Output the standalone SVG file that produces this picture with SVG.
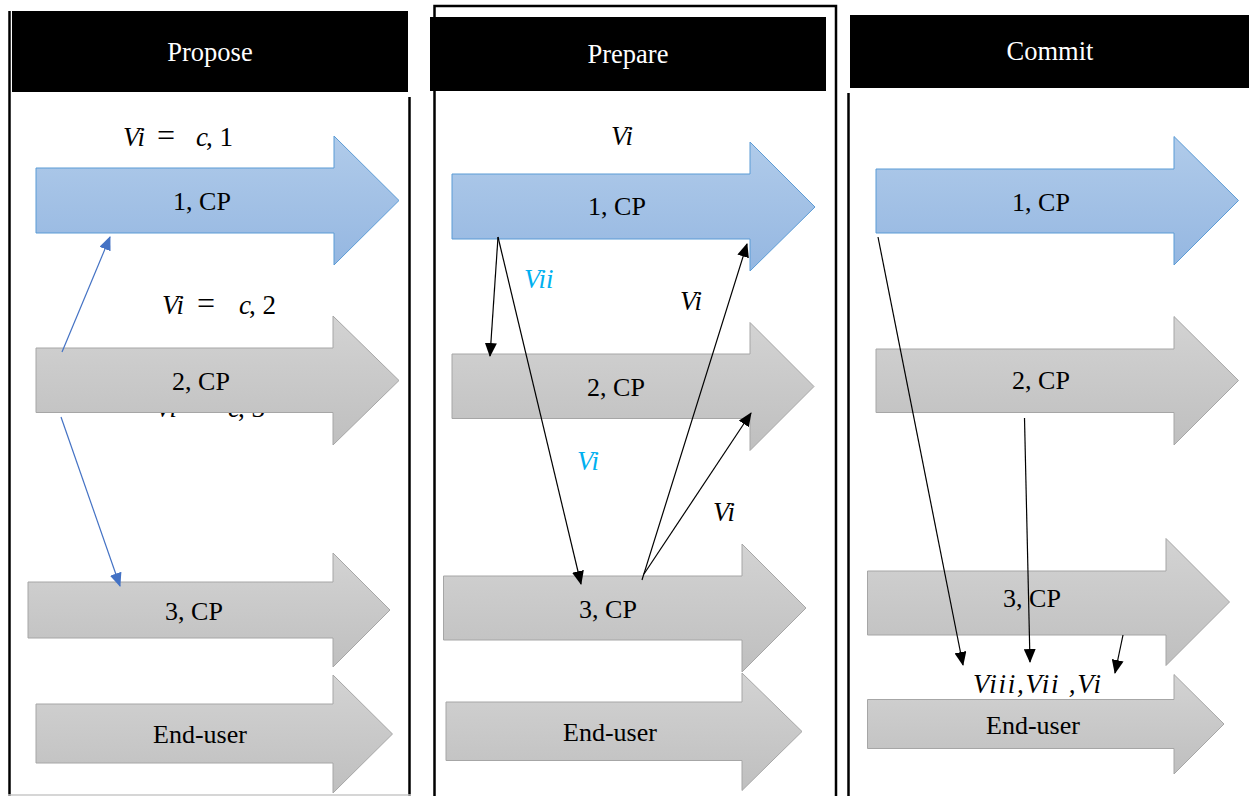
<svg xmlns="http://www.w3.org/2000/svg" width="1249" height="796" viewBox="0 0 1249 796">
  <defs>
    <linearGradient id="gBlue" x1="0" y1="0" x2="0" y2="1">
      <stop offset="0" stop-color="#b0cbea"/>
      <stop offset="1" stop-color="#95b7e1"/>
    </linearGradient>
    <linearGradient id="gGray" x1="0" y1="0" x2="0" y2="1">
      <stop offset="0" stop-color="#d3d3d3"/>
      <stop offset="1" stop-color="#bfbfbf"/>
    </linearGradient>
    <marker id="headBlack" viewBox="0 0 14 12" refX="13" refY="6" markerWidth="14" markerHeight="12" markerUnits="userSpaceOnUse" orient="auto">
      <path d="M0,0 L14,6 L0,12 Z" fill="#000"/>
    </marker>
    <marker id="headBlue" viewBox="0 0 14 12" refX="13" refY="6" markerWidth="14" markerHeight="12" markerUnits="userSpaceOnUse" orient="auto">
      <path d="M0,0 L14,6 L0,12 Z" fill="#4472c4"/>
    </marker>
  </defs>
  <style>
    text { font-family: 'Liberation Serif', 'Times New Roman', 'DejaVu Serif', serif; }
    .frame { stroke: #000; stroke-width: 2.5; fill: none; }
    .header { fill: #000; }
    .title { font-size: 26.5px; fill: #fff; text-anchor: middle; }
    .blue { fill: url(#gBlue); stroke: #5b9bd5; stroke-width: 1; }
    .gray { fill: url(#gGray); stroke: #a6a6a6; stroke-width: 1; }
    .lbl { font-size: 26px; fill: #000; text-anchor: middle; }
    .math { font-size: 27px; fill: #000; }
    .eq { font-size: 32px; }
    .it { font-style: italic; }
    .cyan { fill: #00b0f0; }
    .link { stroke: #000; stroke-width: 1.2; fill: none; marker-end: url(#headBlack); }
    .linkBlue { stroke: #4472c4; stroke-width: 1.2; fill: none; marker-end: url(#headBlue); }
  </style>

  <rect width="1249" height="796" fill="#fff"/>

  <!-- Phase frames and headers -->
  <g id="phase-propose">
    <line class="frame" x1="9.5" y1="11" x2="9.5" y2="796"/>
    <line class="frame" x1="409.5" y1="97" x2="409.5" y2="796"/>
    <line x1="8" y1="795" x2="411" y2="795" stroke="#c8c8c8" stroke-width="1.5"/>
    <rect class="header" x="12" y="11" width="396" height="81"/>
    <text class="title" x="210" y="61">Propose</text>
  </g>
  <g id="phase-prepare">
    <polyline class="frame" points="434.5,796 434.5,6 836,6 836,796"/>
    <rect class="header" x="430" y="17" width="396" height="74"/>
    <text class="title" x="628" y="63">Prepare</text>
  </g>
  <g id="phase-commit">
    <line class="frame" x1="848.5" y1="93" x2="848.5" y2="796"/>
    <rect class="header" x="850" y="15" width="399" height="73"/>
    <text class="title" x="1050" y="60">Commit</text>
  </g>

  <!-- Propose column -->
  <g id="p1-cp1">
    <path class="blue" d="M36,168 H334 V136 L399,200.5 L334,265 V233 H36 Z"/>
    <text class="lbl" x="202" y="210">1, CP</text>
  </g>
  <!-- third value label sits mostly behind the 2, CP arrow -->
  <text class="math" y="417"><tspan class="it" x="155">Vi</tspan><tspan class="eq" x="189">=</tspan><tspan class="it" x="228">c</tspan><tspan x="238">, 3</tspan></text>
  <g id="p1-cp2">
    <path class="gray" d="M36,348 H333 V316 L399,380.5 L333,445 V412.5 H36 Z"/>
    <text class="lbl" x="201" y="390">2, CP</text>
  </g>
  <g id="p1-cp3">
    <path class="gray" d="M28,582 H333 V553 L390,610 L333,667 V638 H28 Z"/>
    <text class="lbl" x="194" y="620">3, CP</text>
  </g>
  <g id="p1-enduser">
    <path class="gray" d="M36,704 H333 V675 L392.5,734 L333,793 V763 H36 Z"/>
    <text class="lbl" x="200" y="743">End-user</text>
  </g>
  <text class="math" y="146"><tspan class="it" x="123">Vi</tspan><tspan class="eq" x="157">=</tspan><tspan class="it" x="196">c</tspan><tspan x="206">, 1</tspan></text>
  <text class="math" y="314"><tspan class="it" x="162">Vi</tspan><tspan class="eq" x="197">=</tspan><tspan class="it" x="239">c</tspan><tspan x="249">, 2</tspan></text>

  <!-- Prepare column -->
  <g id="p2-cp1">
    <path class="blue" d="M452,174 H750 V142 L815,207 L750,271 V239 H452 Z"/>
    <text class="lbl" x="617" y="215">1, CP</text>
  </g>
  <g id="p2-cp2">
    <path class="gray" d="M452,354 H750 V322.5 L814,386.5 L750,450.5 V418.5 H452 Z"/>
    <text class="lbl" x="616" y="396">2, CP</text>
  </g>
  <g id="p2-cp3">
    <path class="gray" d="M443.5,576 H742 V544 L806,608 L742,672 V640 H443.5 Z"/>
    <text class="lbl" x="608" y="618">3, CP</text>
  </g>
  <g id="p2-enduser">
    <path class="gray" d="M446,702 H742 V673 L802,731.5 L742,790.5 V760.5 H446 Z"/>
    <text class="lbl" x="610" y="741">End-user</text>
  </g>
  <text class="math it" x="611" y="145">Vi</text>
  <text class="math it cyan" x="524" y="288">Vii</text>
  <text class="math it" x="680" y="310">Vi</text>
  <text class="math it cyan" x="577" y="470">Vi</text>
  <text class="math it" x="713" y="521">Vi</text>

  <!-- Commit column -->
  <g id="p3-cp1">
    <path class="blue" d="M876,169 H1174 V136.5 L1238.5,200.5 L1174,265 V233 H876 Z"/>
    <text class="lbl" x="1041" y="211">1, CP</text>
  </g>
  <g id="p3-cp2">
    <path class="gray" d="M876,349 H1174 V316.5 L1238.5,380.5 L1174,445 V412.5 H876 Z"/>
    <text class="lbl" x="1041" y="389">2, CP</text>
  </g>
  <g id="p3-cp3">
    <path class="gray" d="M867.5,571 H1166 V538.5 L1229.5,602 L1166,665.5 V635 H867.5 Z"/>
    <text class="lbl" x="1032" y="607">3, CP</text>
  </g>
  <g id="p3-enduser">
    <path class="gray" d="M867.5,699.5 H1174 V674.5 L1224,724 L1174,774 V748.5 H867.5 Z"/>
    <text class="lbl" x="1033" y="734">End-user</text>
  </g>
  <text class="math it" x="973" y="693" textLength="128">Viii,Vii ,Vi</text>

  <!-- Message connectors -->
  <g id="connectors">
    <line class="linkBlue" x1="62" y1="352" x2="110" y2="237"/>
    <line class="linkBlue" x1="61" y1="417" x2="120" y2="586"/>

    <line class="link" x1="498" y1="237" x2="490" y2="356"/>
    <line class="link" x1="498" y1="237" x2="581" y2="584"/>
    <line class="link" x1="642" y1="580" x2="747" y2="244"/>
    <line class="link" x1="644" y1="574" x2="751" y2="413"/>

    <line class="link" x1="878" y1="237" x2="963" y2="665"/>
    <line class="link" x1="1024.5" y1="418" x2="1030" y2="662"/>
    <line class="link" x1="1123" y1="635" x2="1115" y2="673"/>
  </g>
</svg>
